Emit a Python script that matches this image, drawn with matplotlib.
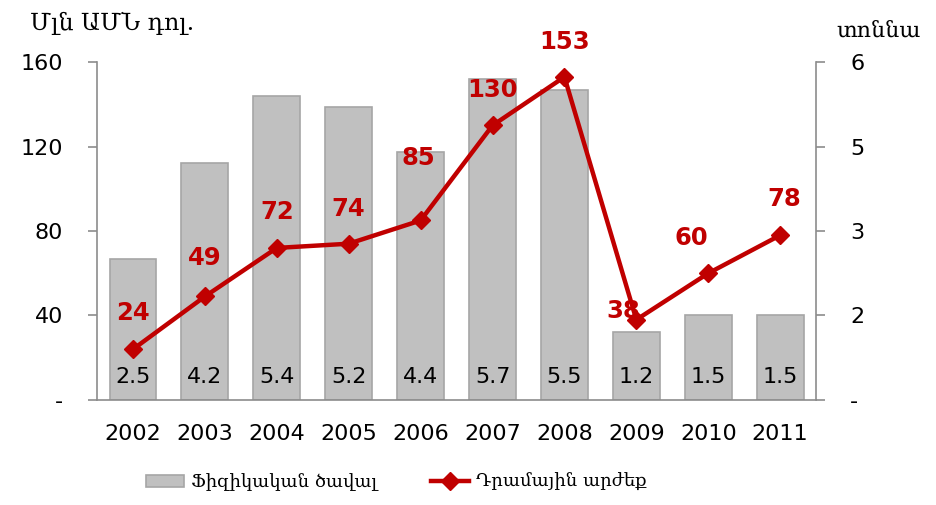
import numpy as np
import matplotlib.pyplot as plt
from matplotlib.lines import Line2D
from matplotlib.patches import Patch

years = ["2002", "2003", "2004", "2005", "2006", "2007", "2008", "2009", "2010", "2011"]
volume_t = [2.5, 4.2, 5.4, 5.2, 4.4, 5.7, 5.5, 1.2, 1.5, 1.5]
value_musd = [24, 49, 72, 74, 85, 130, 153, 38, 60, 78]

left_ticks = [0, 40, 80, 120, 160]
left_labels = ["-", "40", "80", "120", "160"]
right_ticks = [0, 1.5, 3, 4.5, 6]
right_labels = ["-", "2", "3", "5", "6"]

# label offsets (pixels) for the red value labels
lab_off = [(0, 36), (0, 38), (0, 36), (0, 35), (-2, 62), (0, 35), (0, 35), (-13, 9), (-17, 35), (4, 36)]

bar_col = "#C0C0C0"
bar_edge = "#A6A6A6"
red = "#C00000"
axis_col = "#8C8C8C"
serif = ["DejaVu Serif", "DejaVu Sans"]

fig = plt.figure(figsize=(9.37, 5.05), dpi=100)
ax = fig.add_axes([0.1035, 0.208, 0.7675, 0.669])
ax2 = ax.twinx()

x = np.arange(len(years))

# bars on right (tonnes) axis
ax2.bar(x, volume_t, width=0.65, color=bar_col, edgecolor=bar_edge, linewidth=1.2, zorder=1)
for xi, v in zip(x, volume_t):
    ax2.text(xi, 0.4, f"{v:.1f}", ha="center", va="center", fontsize=16, color="black")

ax2.set_ylim(0, 6)
ax.set_ylim(0, 160)
ax.set_xlim(-0.5, len(years) - 0.5)

# line on left axis, drawn above bars
ax.set_zorder(ax2.get_zorder() + 1)
ax.patch.set_visible(False)
ax.plot(x, value_musd, color=red, lw=3.2, marker="D", markersize=9, zorder=3)
for xi, v, off in zip(x, value_musd, lab_off):
    ax.annotate(str(v), (xi, v), xytext=(off[0] * 0.72, off[1] * 0.72), textcoords="offset points",
                ha="center", va="center", fontsize=17.5, fontweight="bold", color=red)

for a in (ax, ax2):
    for s in a.spines.values():
        s.set_visible(False)
    a.tick_params(axis="y", direction="out", length=6.5, width=1.2, color=axis_col, pad=18, labelsize=16)

ax.spines["left"].set_visible(True)
ax.spines["left"].set_color(axis_col)
ax.spines["left"].set_linewidth(1.2)
ax.spines["bottom"].set_visible(True)
ax.spines["bottom"].set_color(axis_col)
ax.spines["bottom"].set_linewidth(1.2)
ax2.spines["right"].set_visible(True)
ax2.spines["right"].set_color(axis_col)
ax2.spines["right"].set_linewidth(1.2)

ax.set_yticks(left_ticks)
ax.set_yticklabels(left_labels)
ax2.set_yticks(right_ticks)
ax2.set_yticklabels(right_labels)

# category boundaries as ticks, labels at centres
ax.set_xticks(np.arange(-0.5, len(years), 1.0))
ax.set_xticklabels([])
ax.set_xticks(x, minor=True)
ax.set_xticklabels(years, minor=True)
ax.tick_params(axis="x", which="major", direction="out", length=6.5, width=1.2, color=axis_col)
ax.tick_params(axis="x", which="minor", length=0, pad=17, labelsize=16)
ax2.set_xticks([])

fig.text(0.032, 0.954, "Մլն ԱՄՆ դոլ.", fontsize=17, family=serif, ha="left", va="center")
fig.text(0.983, 0.94, "տոննա", fontsize=16, family=serif, ha="right", va="center")

handles = [Patch(facecolor=bar_col, edgecolor=bar_edge, linewidth=1.2),
           Line2D([0], [0], color=red, lw=3.2, marker="D", markersize=9)]
fig.legend(handles, ["Ֆիզիկական ծավալ", "Դրամային արժեք"], loc="center", bbox_to_anchor=(0.423, 0.045),
           ncol=2, frameon=False, prop={"family": serif, "size": 13}, columnspacing=3.0,
           handlelength=2.1, handletextpad=0.4)

fig.savefig("out.png", dpi=100)
